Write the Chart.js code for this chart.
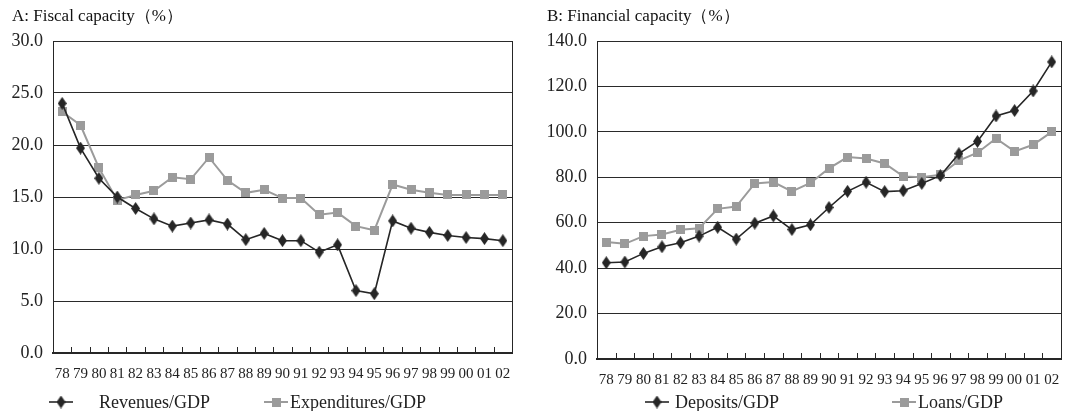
<!DOCTYPE html>
<html lang="en">
<head>
<meta charset="UTF-8">
<title>Fiscal and financial capacity</title>
<script src="https://cdn.jsdelivr.net/npm/chart.js"></script>
<style>
  body { margin: 0; background: #fff; }
  #wrap { position: relative; width: 1084px; height: 411px; }
  .box { position: absolute; top: 0; height: 411px; }
</style>
</head>
<body>
<div id="wrap">
  <div class="box" style="left:0;width:540px"><canvas id="chartA"></canvas></div>
  <div class="box" style="left:540px;width:544px"><canvas id="chartB"></canvas></div>
</div>
<script>
const years = ['78','79','80','81','82','83','84','85','86','87','88','89','90','91','92','93','94','95','96','97','98','99','00','01','02'];

const revenues = [24.0,19.7,16.8,15.0,13.9,12.9,12.2,12.5,12.8,12.4,10.9,11.5,10.8,10.8,9.7,10.4,6.0,5.7,12.7,12.0,11.6,11.3,11.1,11.0,10.8];
const expenditures = [23.2,21.9,17.8,14.7,15.2,15.6,16.9,16.7,18.8,16.6,15.4,15.7,14.9,14.9,13.3,13.5,12.2,11.8,16.2,15.7,15.4,15.2,15.2,15.2,15.2];

const deposits = [42.4,42.7,46.5,49.4,51.2,54.1,58.0,52.8,59.8,63.0,57.0,59.1,66.7,73.8,77.8,73.7,74.1,77.3,80.7,90.4,95.8,107.0,109.4,118.0,130.8];
const loans = [51.5,50.7,54.1,54.8,56.9,57.6,66.1,67.1,77.3,77.9,73.8,77.5,83.9,88.9,88.3,86.1,80.4,80.0,81.1,87.3,90.8,97.1,91.4,94.3,100.0];

const fiscalTicks = { max: 30, step: 5 };
const financialTicks = { max: 140, step: 20 };

const DARK = '#262626';
const GREY = '#9b9b9b';
const FONT = "'Liberation Serif', 'DejaVu Serif', serif";

function diamond() {
  const c = document.createElement('canvas');
  c.width = 9; c.height = 13;
  const g = c.getContext('2d');
  g.fillStyle = DARK;
  g.beginPath();
  g.moveTo(4.5, 0); g.lineTo(9, 6.5); g.lineTo(4.5, 13); g.lineTo(0, 6.5);
  g.closePath(); g.fill();
  return c;
}
function square() {
  const c = document.createElement('canvas');
  c.width = 9; c.height = 9;
  const g = c.getContext('2d');
  g.fillStyle = GREY;
  g.fillRect(0, 0, 9, 9);
  return c;
}
const diamondImg = diamond();
const squareImg = square();

// inner tick marks, right border, and line+marker legend
const frame = {
  id: 'frame',
  afterDraw(chart, args, opts) {
    const ctx = chart.ctx;
    const x = chart.scales.x, a = chart.chartArea;
    const step = x.getPixelForValue(1) - x.getPixelForValue(0);
    ctx.save();
    ctx.strokeStyle = DARK;
    ctx.lineWidth = 1;
    ctx.beginPath();
    for (let i = 0; i <= chart.data.labels.length; i++) {
      const px = Math.round(x.getPixelForValue(i) - step / 2) + 0.5;
      ctx.moveTo(px, a.bottom);
      ctx.lineTo(px, a.bottom - 6);
    }
    ctx.moveTo(Math.round(a.right) + 0.5, a.top);
    ctx.lineTo(Math.round(a.right) + 0.5, a.bottom);
    ctx.stroke();

    ctx.font = '18px ' + FONT;
    ctx.textBaseline = 'middle';
    ctx.fillStyle = '#222';
    chart.data.datasets.forEach((ds, i) => {
      const it = opts.items[i];
      ctx.strokeStyle = ds.borderColor;
      ctx.lineWidth = ds.borderWidth;
      ctx.beginPath();
      ctx.moveTo(it.x, opts.y);
      ctx.lineTo(it.x + 24, opts.y);
      ctx.stroke();
      const img = ds.pointStyle;
      ctx.drawImage(img, it.x + 12 - img.width / 2, opts.y - img.height / 2);
      ctx.fillText(ds.label, it.textX, opts.y + 1);
    });
    ctx.restore();
  }
};

function makeChart(id, title, sets, ticks, pad, yWidth, legendItems) {
  return new Chart(document.getElementById(id), {
    type: 'line',
    data: {
      labels: years,
      datasets: sets.map(s => ({
        label: s.label,
        data: s.data,
        borderColor: s.color,
        borderWidth: s.width,
        pointStyle: s.img,
        pointRadius: 5,
        tension: 0
      }))
    },
    options: {
      responsive: true,
      maintainAspectRatio: false,
      animation: false,
      layout: { padding: pad },
      plugins: {
        legend: { display: false },
        tooltip: { enabled: false },
        title: {
          display: true,
          text: title,
          align: 'start',
          color: '#111',
          font: { family: FONT, size: 17, weight: 'normal' },
          padding: { top: 6, bottom: 14.6 }
        },
        frame: { y: 402, items: legendItems }
      },
      scales: {
        x: {
          type: 'category',
          offset: true,
          grid: { display: false },
          border: { color: DARK, width: 2 },
          ticks: {
            autoSkip: false, maxRotation: 0, padding: 4,
            color: '#222', font: { family: FONT, size: 15 }
          },
          afterFit: s => { s.height = 30; }
        },
        y: {
          min: 0, max: ticks.max,
          grid: { color: '#2a2a2a', lineWidth: 1, drawTicks: false },
          border: { color: DARK, width: 1 },
          ticks: {
            stepSize: ticks.step, padding: 10, color: '#222',
            font: { family: FONT, size: 18 },
            callback: v => v.toFixed(1)
          },
          afterFit: s => { s.width = yWidth; }
        }
      }
    },
    plugins: [frame]
  });
}

makeChart('chartA', 'A: Fiscal capacity（%）', [
  { label: 'Revenues/GDP', data: revenues, color: DARK, width: 1.6, img: diamondImg },
  { label: 'Expenditures/GDP', data: expenditures, color: GREY, width: 2, img: squareImg }
], fiscalTicks, { left: 12, right: 28, top: 0, bottom: 28 }, 41,
  [{ x: 49, textX: 99 }, { x: 264, textX: 290 }]);

makeChart('chartB', 'B: Financial capacity（%）', [
  { label: 'Deposits/GDP', data: deposits, color: DARK, width: 1.6, img: diamondImg },
  { label: 'Loans/GDP', data: loans, color: GREY, width: 2, img: squareImg }
], financialTicks, { left: 7, right: 23, top: 0, bottom: 22 }, 50,
  [{ x: 105, textX: 135 }, { x: 352, textX: 378 }]);
</script>
</body>
</html>
